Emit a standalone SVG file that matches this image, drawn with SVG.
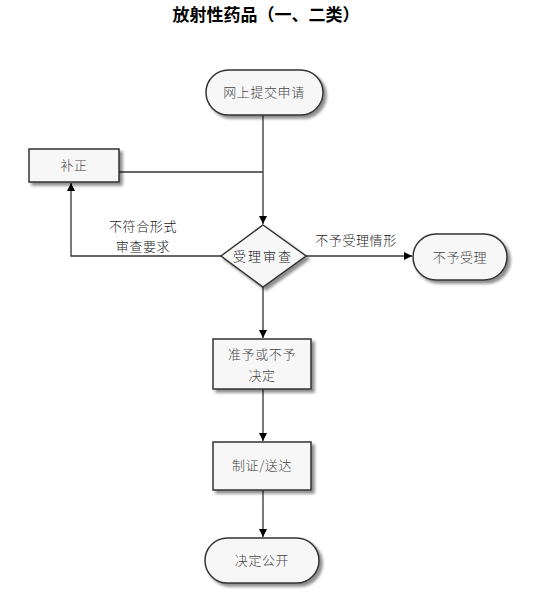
<svg xmlns="http://www.w3.org/2000/svg" width="538" height="607" viewBox="0 0 538 607">
<style>
.node{fill:#f7f7f7;stroke:#333;stroke-width:1.5}
.t{font-family:"Noto Sans CJK SC","Noto Sans CJK JP",sans-serif;font-size:13px;font-weight:300;fill:#444;text-anchor:middle;letter-spacing:0.6px}
.lbl{font-family:"Noto Sans CJK SC","Noto Sans CJK JP",sans-serif;font-size:13px;font-weight:300;fill:#222;text-anchor:middle;letter-spacing:0.6px}
.title{font-family:"Noto Sans CJK SC","Noto Sans CJK JP",sans-serif;font-size:17px;font-weight:bold;fill:#000;text-anchor:middle}
.c{fill:none;stroke:#333;stroke-width:1.3}
</style>
<defs>
<filter id="sh" x="-20%" y="-20%" width="150%" height="160%">
<feGaussianBlur in="SourceAlpha" stdDeviation="1.5"/>
<feOffset dx="3" dy="3" result="b"/>
<feComponentTransfer><feFuncA type="linear" slope="0.45"/></feComponentTransfer>
<feMerge><feMergeNode/><feMergeNode in="SourceGraphic"/></feMerge>
</filter>
<marker id="ar" viewBox="0 0 10 10" refX="10" refY="5" markerWidth="8" markerHeight="8" markerUnits="userSpaceOnUse" orient="auto">
<path d="M0,0 L10,5 L0,10 z" fill="#000"/>
</marker>
</defs>
<rect width="538" height="607" fill="#fff"/>
<text class="title" x="266" y="21">放射性药品（一、二类）</text>

<g id="connectors">
<path class="c" d="M263,115 V224" marker-end="url(#ar)"/>
<path class="c" d="M119,172 H263"/>
<path class="c" d="M221,256 H71 V183" marker-end="url(#ar)"/>
<path class="c" d="M306,256 H412" marker-end="url(#ar)"/>
<path class="c" d="M263,287 V338" marker-end="url(#ar)"/>
<path class="c" d="M263,389 V441" marker-end="url(#ar)"/>
<path class="c" d="M263,490 V537" marker-end="url(#ar)"/>
<text class="lbl" x="143" y="231">不符合形式</text>
<text class="lbl" x="143" y="251">审查要求</text>
<text class="lbl" x="356" y="245">不予受理情形</text>
</g>

<g id="n-apply">
<rect class="node" x="206" y="70" width="117" height="45" rx="22.5" filter="url(#sh)"/>
<text class="t" x="264" y="97">网上提交申请</text>
</g>
<g id="n-correct">
<rect class="node" x="29" y="149" width="90" height="33" filter="url(#sh)"/>
<text class="t" x="74" y="170">补正</text>
</g>
<g id="n-review">
<polygon class="node" points="263,225 306,256 263,287 221,256" filter="url(#sh)"/>
<text class="lbl" x="263" y="261" style="letter-spacing:2px">受理审查</text>
</g>
<g id="n-reject">
<rect class="node" x="413" y="234" width="94" height="46" rx="23" filter="url(#sh)"/>
<text class="t" x="460" y="262">不予受理</text>
</g>
<g id="n-decide">
<rect class="node" x="213" y="339" width="98" height="50" filter="url(#sh)"/>
<text class="t" x="262" y="359">准予或不予</text>
<text class="t" x="262" y="380">决定</text>
</g>
<g id="n-issue">
<rect class="node" x="213" y="442" width="98" height="48" filter="url(#sh)"/>
<text class="t" x="262" y="470">制证/送达</text>
</g>
<g id="n-public">
<rect class="node" x="205" y="538" width="114" height="45" rx="22.5" filter="url(#sh)"/>
<text class="t" x="262" y="565">决定公开</text>
</g>
</svg>
